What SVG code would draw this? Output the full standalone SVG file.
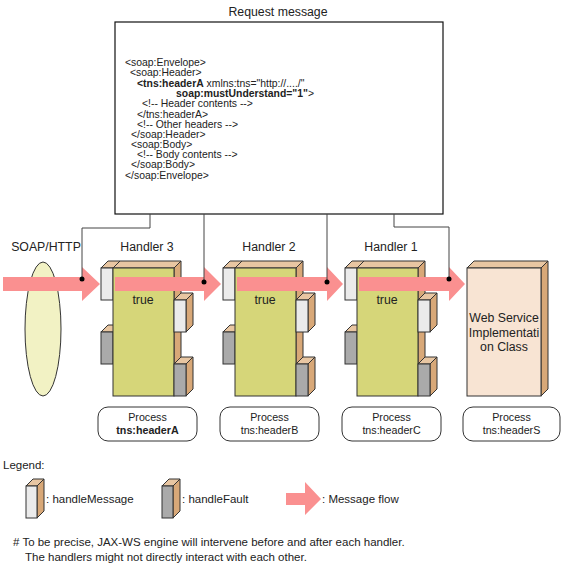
<svg xmlns="http://www.w3.org/2000/svg" width="563" height="568" viewBox="0 0 563 568">
<style>
text{font-family:"Liberation Sans",Arial,sans-serif;fill:#222;}
.t{font-size:12.3px;}
.s{font-size:11.5px;}
.p{font-size:10.7px;}
.x{font-size:10.4px;}
.b{font-weight:bold;}
.m{text-anchor:middle;}
.ln{fill:none;stroke:#444;stroke-width:1;}
.dot{fill:#000;}
.flow{fill:#fa9090;}
.green{fill:#d6d679;stroke:#333;stroke-width:1;}
.top{fill:#e8c6a2;stroke:#333;stroke-width:1;}
.side{fill:#d8a878;stroke:#333;stroke-width:1;}
.wht{fill:#ebebeb;stroke:#333;stroke-width:1;}
.gry{fill:#aaaaaa;stroke:#333;stroke-width:1;}
.proc{fill:#fff;stroke:#333;stroke-width:1;}
</style>
<defs>
<g id="hshape">
<polygon class="top" points="-12,268 -5,261 7,261 0,268"/>
<rect class="wht" x="-12" y="268" width="12" height="32"/>
<polygon class="top" points="-12,332 -5,325 7,325 0,332"/>
<rect class="gry" x="-12" y="332" width="12" height="32"/>
<polygon class="top" points="0,268 7,261 68,261 61,268"/>
<polygon class="side" points="61,268 68,261 68,389 61,396"/>
<rect class="green" x="0" y="268" width="61" height="128"/>
<polygon class="top" points="61,300 68,293 80,293 73,300"/>
<polygon class="side" points="73,300 80,293 80,325 73,332"/>
<rect class="wht" x="61" y="300" width="12" height="32"/>
<polygon class="top" points="61,364 68,357 80,357 73,364"/>
<polygon class="side" points="73,364 80,357 80,389 73,396"/>
<rect class="gry" x="61" y="364" width="12" height="32"/>
</g>
</defs>
<rect width="563" height="568" fill="#fff"/>

<g id="request">
<text class="t m" x="278" y="16">Request message</text>
<rect x="115" y="22" width="328" height="192" fill="#fff" stroke="#111" stroke-width="1.2"/>
<text class="x" x="125" y="66">&lt;soap:Envelope&gt;</text>
<text class="x" x="130" y="76">&lt;soap:Header&gt;</text>
<text class="x" x="137" y="86.5"><tspan class="b">&lt;tns:headerA</tspan> xmlns:tns="http://..../"</text>
<text class="x" x="176" y="97"><tspan class="b">soap:mustUnderstand="1"</tspan>&gt;</text>
<text class="x" x="142" y="107">&lt;!-- Header contents --&gt;</text>
<text class="x" x="137" y="117.5">&lt;/tns:headerA&gt;</text>
<text class="x" x="137" y="128">&lt;!-- Other headers --&gt;</text>
<text class="x" x="131" y="138">&lt;/soap:Header&gt;</text>
<text class="x" x="131" y="148">&lt;soap:Body&gt;</text>
<text class="x" x="137" y="158">&lt;!-- Body contents --&gt;</text>
<text class="x" x="131" y="168">&lt;/soap:Body&gt;</text>
<text class="x" x="125" y="178.5">&lt;/soap:Envelope&gt;</text>
</g>

<g id="soap">
<text class="t m" x="46" y="251">SOAP/HTTP</text>
<ellipse cx="43" cy="329" rx="18" ry="67" fill="#f2f2c4" stroke="#333" stroke-width="1"/>
</g>

<g id="handler3">
<text class="t m" x="147" y="251">Handler 3</text>
<use href="#hshape" x="113"/>
<text class="t m" x="143" y="304">true</text>
<rect class="proc" x="98" y="407" width="99" height="34" rx="10"/>
<text class="p m" x="147.5" y="420.5">Process</text>
<text class="p m b" x="147.5" y="434">tns:headerA</text>
</g>

<g id="handler2">
<text class="t m" x="269" y="251">Handler 2</text>
<use href="#hshape" x="235"/>
<text class="t m" x="265" y="304">true</text>
<rect class="proc" x="220" y="407" width="99" height="34" rx="10"/>
<text class="p m" x="269.5" y="420.5">Process</text>
<text class="p m" x="269.5" y="434">tns:headerB</text>
</g>

<g id="handler1">
<text class="t m" x="391" y="251">Handler 1</text>
<use href="#hshape" x="357"/>
<text class="t m" x="387" y="304">true</text>
<rect class="proc" x="342" y="407" width="99" height="34" rx="10"/>
<text class="p m" x="391.5" y="420.5">Process</text>
<text class="p m" x="391.5" y="434">tns:headerC</text>
</g>

<g id="webservice">
<polygon class="top" points="467,268 474,261 548,261 541,268" fill="#efd3b5"/>
<polygon class="side" points="541,268 548,261 548,389 541,396"/>
<rect x="467" y="268" width="74" height="128" fill="#f8e4d3" stroke="#333" stroke-width="1"/>
<text class="t m" x="504" y="322">Web Service</text>
<text class="t m" x="504" y="336.5">Implementati</text>
<text class="t m" x="504" y="351">on Class</text>
<rect class="proc" x="463" y="407" width="97" height="34" rx="10"/>
<text class="p m" x="511.5" y="420.5">Process</text>
<text class="p m" x="511.5" y="434">tns:headerS</text>
</g>

<g id="connectors">
<polygon class="flow" points="3,277 82,277 82,267 100,284 82,301 82,291 3,291"/>
<polygon class="flow" points="115,277 204,277 204,267 221,284 204,301 204,291 115,291"/>
<polygon class="flow" points="237,277 327,277 327,267 343,284 327,301 327,291 237,291"/>
<polygon class="flow" points="359,277 449,277 449,267 465,284 449,301 449,291 359,291"/>
<polyline class="ln" points="150,214 150,228 82,228 82,279"/>
<line class="ln" x1="204" y1="214" x2="204" y2="282"/>
<line class="ln" x1="327" y1="214" x2="327" y2="282"/>
<polyline class="ln" points="394,214 394,227 449,227 449,279"/>
<circle class="dot" cx="82" cy="279" r="2.5"/>
<circle class="dot" cx="204" cy="282" r="2.5"/>
<circle class="dot" cx="327" cy="282" r="2.5"/>
<circle class="dot" cx="449" cy="279" r="2.5"/>
</g>

<g id="legend">
<text class="s" x="3" y="469">Legend:</text>
<polygon class="top" points="26,486 33,479 44,479 37,486"/>
<polygon class="side" points="37,486 44,479 44,511 37,518"/>
<rect class="wht" x="26" y="486" width="11" height="32"/>
<text class="s" x="46" y="502.5">: handleMessage</text>
<polygon class="top" points="162,486 169,479 180,479 173,486"/>
<polygon class="side" points="173,486 180,479 180,511 173,518"/>
<rect class="gry" x="162" y="486" width="11" height="32"/>
<text class="s" x="182" y="502.5">: handleFault</text>
<polygon class="flow" points="286,493 305,493 305,482 321,499 305,515 305,505 286,505"/>
<text class="s" x="322" y="502.5">: Message flow</text>
</g>

<g id="note">
<text class="s" x="13" y="546"># To be precise, JAX-WS engine will intervene before and after each handler.</text>
<text class="s" x="25" y="561">The handlers might not directly interact with each other.</text>
</g>
</svg>
